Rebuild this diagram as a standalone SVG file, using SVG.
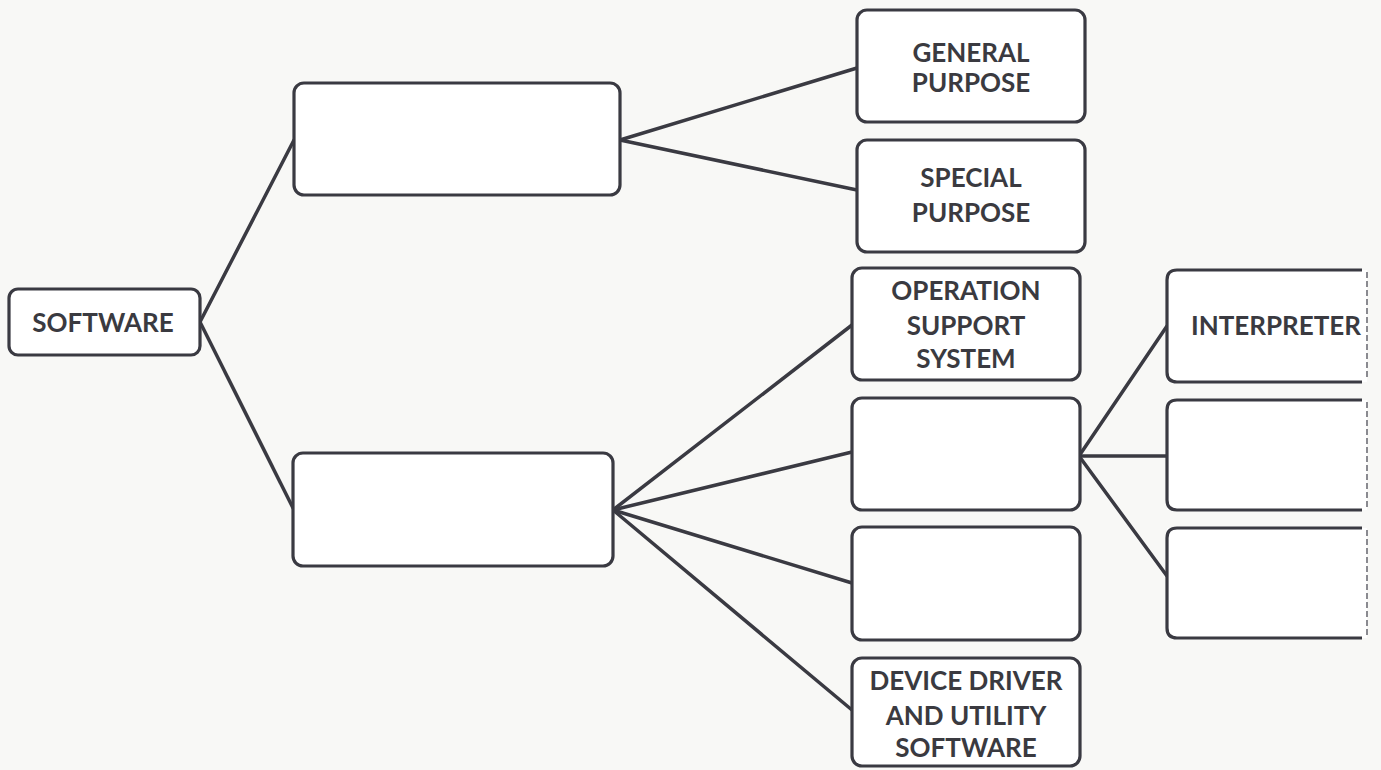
<svg xmlns="http://www.w3.org/2000/svg" width="1381" height="770" viewBox="0 0 1381 770">
<style>
.box{fill:#ffffff;stroke:#3a3a42;stroke-width:3.2}
.open{fill:none;stroke:#3a3a42;stroke-width:3.2}
.fade{fill:none;stroke:#8a8a90;stroke-width:2;stroke-dasharray:6 3}
.lbl{font-family:Lato,"Liberation Sans",sans-serif;font-weight:bold;font-size:26px;fill:#3a3a40;text-anchor:middle}
.edge{fill:none;stroke:#3a3a42;stroke-width:3.5;stroke-linecap:round}
</style>
<rect width="1381" height="770" fill="#f8f8f6"/>
<g id="connectors">
<line class="edge" x1="200" y1="322" x2="294" y2="140"/>
<line class="edge" x1="200" y1="322" x2="293" y2="508"/>
<line class="edge" x1="620" y1="140" x2="857" y2="68"/>
<line class="edge" x1="620" y1="140" x2="857" y2="190"/>
<line class="edge" x1="613" y1="510" x2="852" y2="325"/>
<line class="edge" x1="613" y1="510" x2="852" y2="452"/>
<line class="edge" x1="613" y1="510" x2="852" y2="583"/>
<line class="edge" x1="613" y1="510" x2="852" y2="710"/>
<line class="edge" x1="1079" y1="456" x2="1167" y2="326"/>
<line class="edge" x1="1079" y1="456" x2="1167" y2="456"/>
<line class="edge" x1="1079" y1="456" x2="1167" y2="576"/>
</g>
<g id="software">
<rect class="box" x="9" y="289" width="191" height="66" rx="9"/>
<text class="lbl" x="103" y="332">SOFTWARE</text>
</g>
<g id="upper-blank">
<rect class="box" x="294" y="83" width="326" height="112" rx="10"/>
</g>
<g id="lower-blank">
<rect class="box" x="293" y="453" width="320" height="113" rx="10"/>
</g>
<g id="general-purpose">
<rect class="box" x="857" y="10" width="228" height="112" rx="10"/>
<text class="lbl" x="971" y="62">GENERAL</text>
<text class="lbl" x="971" y="92">PURPOSE</text>
</g>
<g id="special-purpose">
<rect class="box" x="857" y="140" width="228" height="112" rx="10"/>
<text class="lbl" x="971" y="187">SPECIAL</text>
<text class="lbl" x="971" y="222">PURPOSE</text>
</g>
<g id="operation-support-system">
<rect class="box" x="852" y="268" width="228" height="112" rx="10"/>
<text class="lbl" x="966" y="300">OPERATION</text>
<text class="lbl" x="966" y="335">SUPPORT</text>
<text class="lbl" x="966" y="368">SYSTEM</text>
</g>
<g id="blank-2">
<rect class="box" x="852" y="398" width="228" height="112" rx="10"/>
</g>
<g id="blank-3">
<rect class="box" x="852" y="527" width="228" height="113" rx="10"/>
</g>
<g id="device-driver">
<rect class="box" x="852" y="658" width="228" height="108" rx="10"/>
<text class="lbl" x="966" y="690">DEVICE DRIVER</text>
<text class="lbl" x="966" y="725">AND UTILITY</text>
<text class="lbl" x="966" y="757">SOFTWARE</text>
</g>
<g id="interpreter">
<rect x="1167" y="270" width="200" height="112" fill="#ffffff"/>
<path class="open" d="M1362 270 H1177 Q1167 270 1167 280 V372 Q1167 382 1177 382 H1362"/>
<line class="fade" x1="1367" y1="272" x2="1367" y2="380"/>
<text class="lbl" x="1276" y="335">INTERPRETER</text>
</g>
<g id="blank-4">
<rect x="1167" y="400" width="200" height="110" fill="#ffffff"/>
<path class="open" d="M1362 400 H1177 Q1167 400 1167 410 V500 Q1167 510 1177 510 H1362"/>
<line class="fade" x1="1367" y1="402" x2="1367" y2="508"/>
</g>
<g id="blank-5">
<rect x="1167" y="528" width="200" height="110" fill="#ffffff"/>
<path class="open" d="M1362 528 H1177 Q1167 528 1167 538 V628 Q1167 638 1177 638 H1362"/>
<line class="fade" x1="1367" y1="530" x2="1367" y2="636"/>
</g>
</svg>
